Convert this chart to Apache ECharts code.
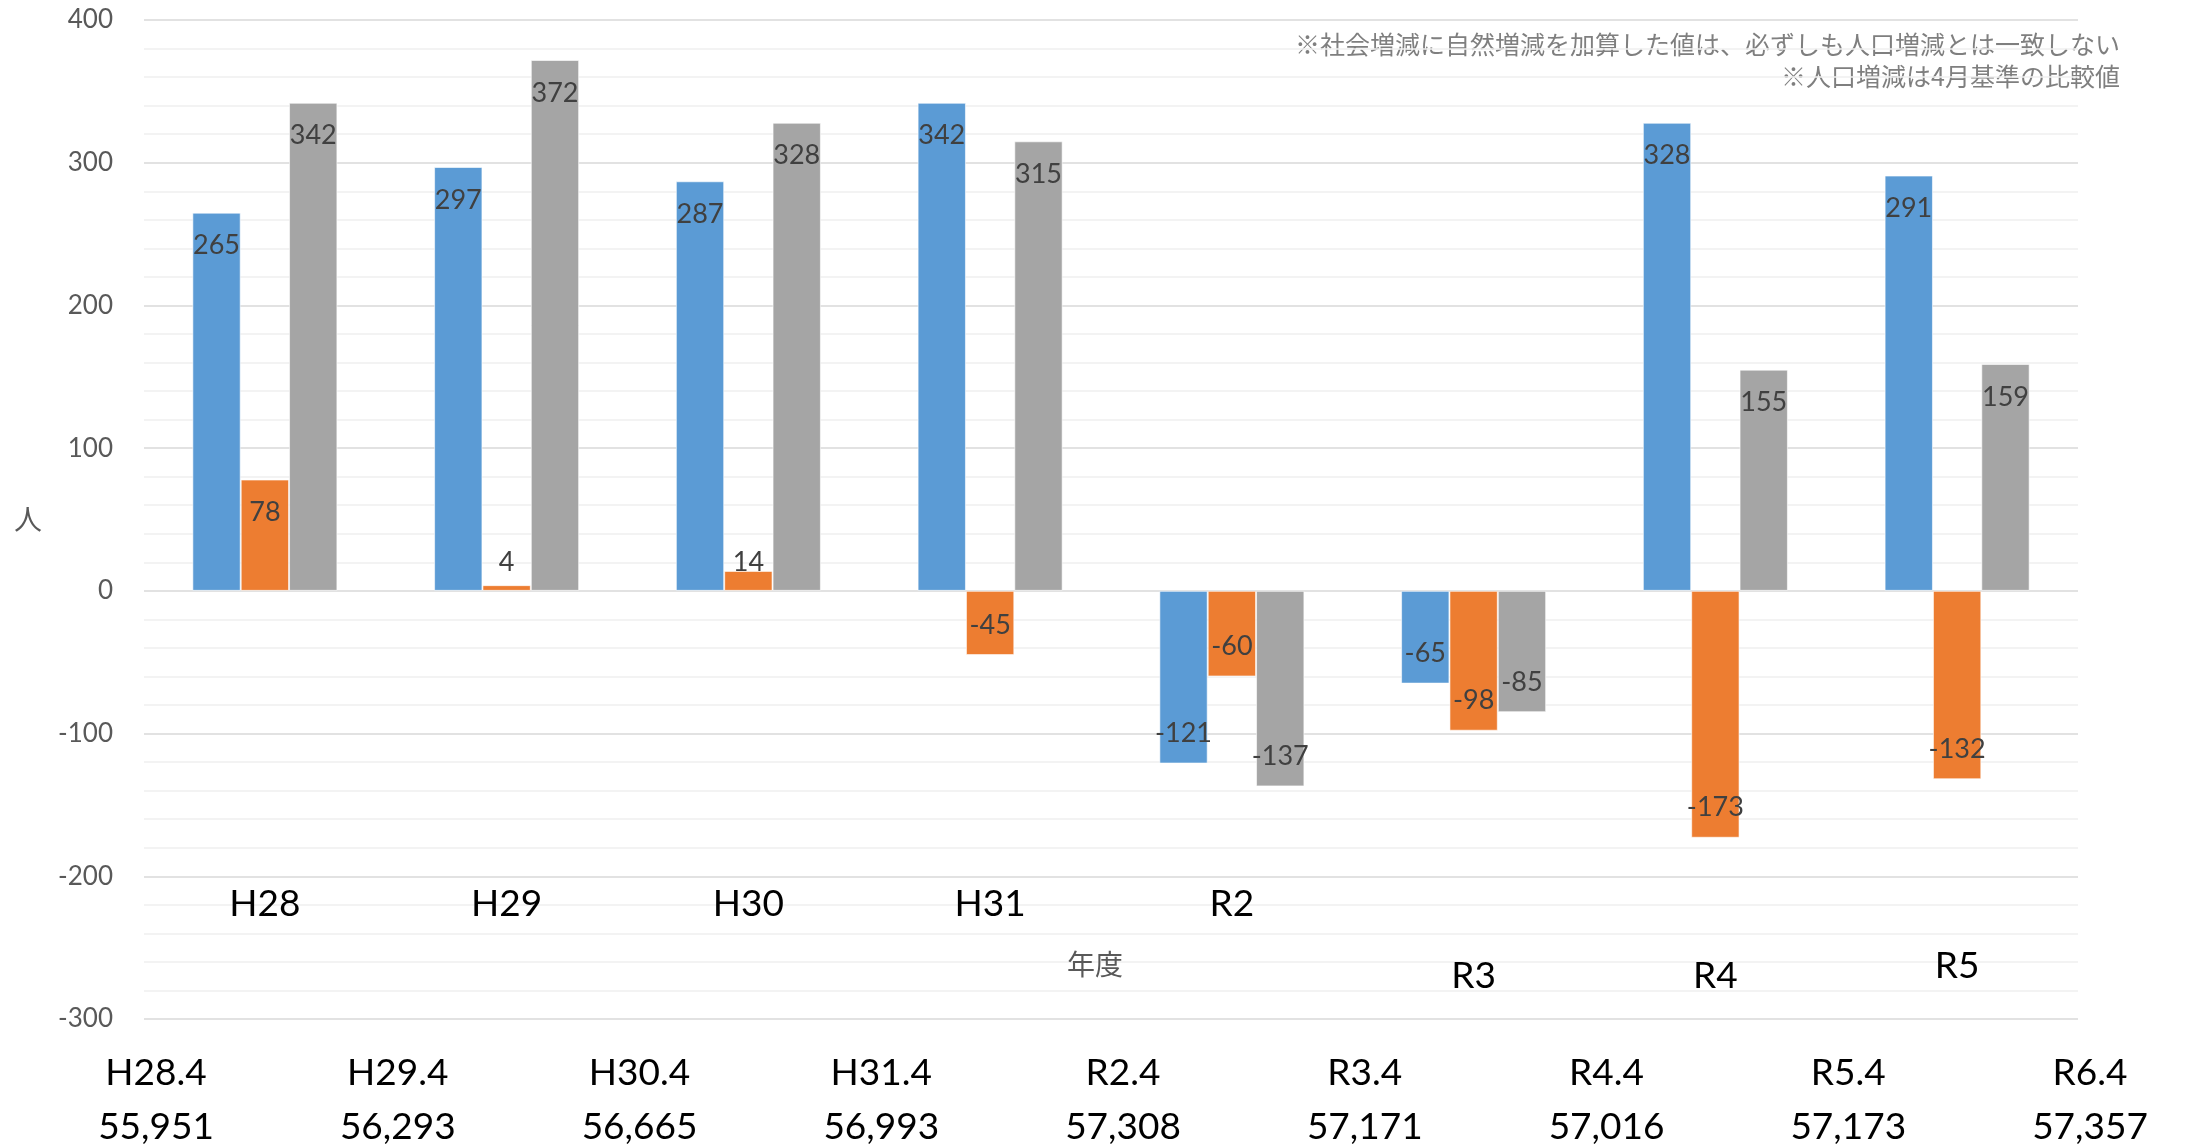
<!DOCTYPE html>
<html>
<head>
<meta charset="utf-8">
<script src="https://cdn.jsdelivr.net/npm/echarts@6/dist/echarts.min.js"></script>
<style>html,body{margin:0;padding:0;background:#fff;}#c{width:2190px;height:1146px;}</style>
</head>
<body>
<div id="c"></div>
<script>
const categories = ['H28', 'H29', 'H30', 'H31', 'R2', 'R3', 'R4', 'R5'];
const socialChange = [265, 297, 287, 342, -121, -65, 328, 291];
const naturalChange = [78, 4, 14, -45, -60, -98, -173, -132];
const populationChange = [342, 372, 328, 315, -137, -85, 155, 159];
const monthLabels = ['H28.4', 'H29.4', 'H30.4', 'H31.4', 'R2.4', 'R3.4', 'R4.4', 'R5.4', 'R6.4'];
const populations = ['55,951', '56,293', '56,665', '56,993', '57,308', '57,171', '57,016', '57,173', '57,357'];
const yTicks = { min: -300, max: 400, interval: 100 };
const seriesNames = ['社会増減', '自然増減', '人口増減'];
const seriesColors = ['#5B9BD5', '#ED7D31', '#A5A5A5'];
const noteLines = ['※社会増減に自然増減を加算した値は、必ずしも人口増減とは一致しない', '※人口増減は4月基準の比較値'];

const latin = 'Lato, "Noto Sans CJK JP", sans-serif';
const cjk = '"Noto Sans CJK JP", Lato, sans-serif';
const pxPer100 = 142.7;

function buildData(values) {
  return values.map(v => {
    const h = Math.abs(v) * pxPer100 / 100;
    let pos, dist;
    if (v >= 0) {
      if (h >= 61) { pos = 'insideTop'; dist = 18; }
      else { pos = 'insideBottom'; dist = 14; }
    } else {
      pos = 'insideBottom'; dist = 15;
    }
    return { value: v, label: { position: pos, distance: dist } };
  });
}

const lowLabel = { R3: 'c', R4: 'c', R5: 'b' };

const chart = echarts.init(document.getElementById('c'));
chart.setOption({
  backgroundColor: '#ffffff',
  animation: false,
  graphic: noteLines.map((t, i) => ({
    type: 'text',
    right: 70,
    top: 32 + i * 32,
    style: {
      text: t,
      fontFamily: cjk,
      fontSize: 25,
      fill: '#7f7f7f'
    }
  })),
  grid: { left: 144, right: 112, top: 20, bottom: 127, containLabel: false, outerBoundsMode: 'none' },
  xAxis: [
    {
      type: 'category',
      data: categories,
      position: 'bottom',
      axisLine: { show: false },
      axisTick: { show: false },
      splitLine: { show: false },
      name: '年度',
      nameLocation: 'middle',
      nameGap: -55,
      nameMoveOverlap: false,
      nameTextStyle: { fontFamily: cjk, fontSize: 28, color: '#595959', verticalAlign: 'middle', padding: [0, 32, 0, 0] },
      axisLabel: {
        interval: 0,
        margin: -137,
        verticalAlign: 'top',
        formatter: function (v) { return '{' + (lowLabel[v] || 'a') + '|' + v + '}'; },
        rich: {
          a: { fontFamily: latin, fontSize: 37, color: '#000', lineHeight: 44 },
          b: { fontFamily: latin, fontSize: 37, color: '#000', lineHeight: 168 },
          c: { fontFamily: latin, fontSize: 37, color: '#000', lineHeight: 188 }
        }
      }
    },
    {
      type: 'category',
      data: monthLabels.map((m, i) => m + '\n' + populations[i]),
      position: 'bottom',
      boundaryGap: false,
      axisLine: { show: false },
      axisTick: { show: false },
      splitLine: { show: false },
      axisLabel: {
        interval: 0,
        margin: 27,
        verticalAlign: 'top',
        padding: [0, 0, 0, 24],
        fontFamily: latin,
        fontSize: 37,
        lineHeight: 54,
        color: '#000',
        hideOverlap: false
      }
    }
  ],
  yAxis: {
    type: 'value',
    min: yTicks.min,
    max: yTicks.max,
    interval: yTicks.interval,
    name: '人',
    nameLocation: 'middle',
    nameRotate: 0,
    nameGap: 102,
    nameMoveOverlap: false,
    nameTextStyle: { fontFamily: cjk, fontSize: 28, color: '#595959' },
    axisLine: { show: false },
    axisTick: { show: false },
    axisLabel: { margin: 31, fontFamily: latin, fontSize: 26, color: '#595959' },
    splitLine: { show: true, lineStyle: { color: '#d9d9d9', width: 1.5 } },
    minorTick: { show: false, splitNumber: 5 },
    minorSplitLine: { show: true, lineStyle: { color: '#f0f0f0', width: 1.5 } }
  },
  series: [socialChange, naturalChange, populationChange].map((vals, i) => ({
    name: seriesNames[i],
    type: 'bar',
    xAxisIndex: 0,
    data: buildData(vals),
    barGap: '0%',
    barCategoryGap: '40%',
    itemStyle: { color: seriesColors[i], borderColor: 'rgba(255,255,255,0.6)', borderWidth: 1 },
    label: {
      show: true,
      fontFamily: latin,
      fontSize: 27,
      lineHeight: 30,
      color: '#404040'
    }
  }))
});
</script>
</body>
</html>
